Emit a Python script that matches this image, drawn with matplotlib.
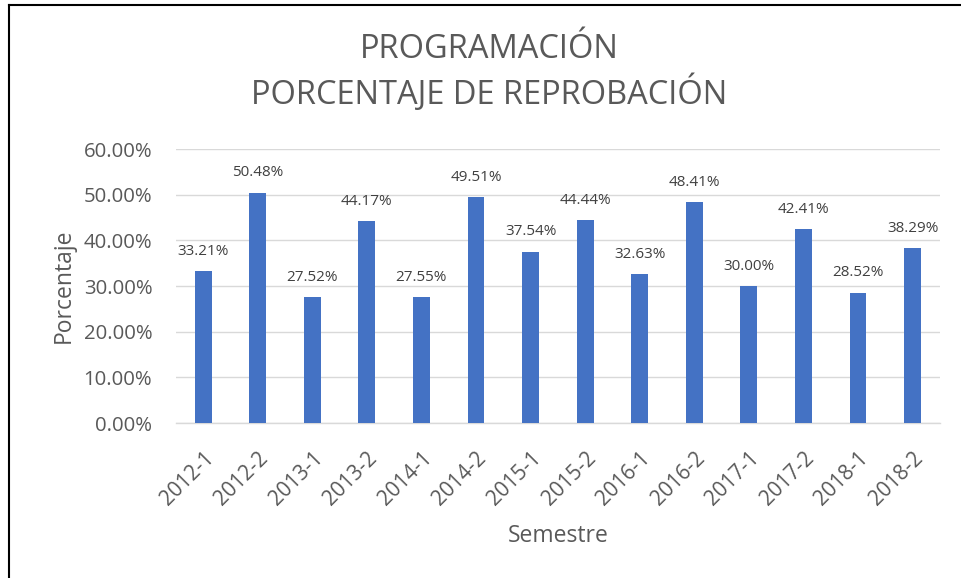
import matplotlib
matplotlib.use("Agg")
import matplotlib.pyplot as plt
from matplotlib.lines import Line2D
from matplotlib.ticker import FuncFormatter, MultipleLocator

semestres = ["2012-1", "2012-2", "2013-1", "2013-2", "2014-1", "2014-2", "2015-1",
             "2015-2", "2016-1", "2016-2", "2017-1", "2017-2", "2018-1", "2018-2"]
porcentajes = [33.21, 50.48, 27.52, 44.17, 27.55, 49.51, 37.54,
               44.44, 32.63, 48.41, 30.00, 42.41, 28.52, 38.29]

plt.rcParams['font.family'] = ['Open Sans', 'DejaVu Sans']

fig = plt.figure(figsize=(9.61, 5.78), dpi=100)
ax = fig.add_axes([0.183, 0.268, 0.795, 0.474])

x = list(range(len(semestres)))
ax.bar(x, porcentajes, width=0.31, color="#4472C4", zorder=3)
for xi, v in zip(x, porcentajes):
    ax.annotate(f"{v:.2f}%", (xi, v), xytext=(0, 9), textcoords="offset points",
                ha="center", va="bottom", fontsize=11, color="#404040")

ax.set_xlim(-0.5, len(semestres) - 0.5)
ax.set_ylim(0, 60)
ax.yaxis.set_major_locator(MultipleLocator(10))
ax.yaxis.set_major_formatter(FuncFormatter(lambda v, p: f"{v:.2f}%"))
ax.grid(axis="y", color="#D9D9D9", linewidth=1, zorder=0)
for s in ["top", "right", "left"]:
    ax.spines[s].set_visible(False)
ax.spines["bottom"].set_color("#D9D9D9")
ax.spines["bottom"].set_linewidth(1)
ax.tick_params(axis="both", length=0, colors="#595959")
ax.tick_params(axis="y", pad=17, labelsize=14.7)
ax.set_xticks(x)
ax.set_xticklabels(semestres, rotation=45, ha="right", rotation_mode="anchor")
ax.tick_params(axis="x", pad=18, labelsize=15)
ax.set_ylabel("Porcentaje", fontsize=16.5, color="#595959", labelpad=6)
ax.set_xlabel("Semestre", fontsize=16.5, color="#595959", labelpad=10)

fig.text(0.509, 0.915, "PROGRAMACIÓN", ha="center", va="center", fontsize=23.5, color="#595959")
fig.text(0.509, 0.838, "PORCENTAJE DE REPROBACIÓN", ha="center", va="center", fontsize=23.5, color="#595959")

# border lines (left and top)
fig.add_artist(Line2D([0.009, 0.009], [0, 0.991], transform=fig.transFigure, color="black", linewidth=1.5))
fig.add_artist(Line2D([0.009, 1.0], [0.991, 0.991], transform=fig.transFigure, color="black", linewidth=1.5))

fig.savefig("out.png", dpi=100)
